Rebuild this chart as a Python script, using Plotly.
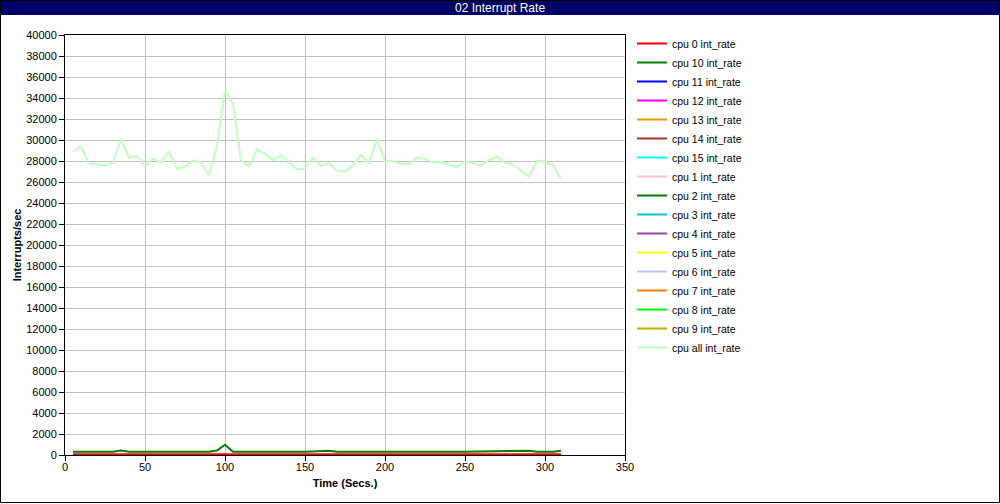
import plotly.graph_objects as go

# ---- data ----
times = [5, 10, 15, 20, 25, 30, 35, 40, 45, 50, 55, 60, 65, 70, 75, 80, 85, 90, 95, 100,
         105, 110, 115, 120, 125, 130, 135, 140, 145, 150, 155, 160, 165, 170, 175, 180,
         185, 190, 195, 200, 205, 210, 215, 220, 225, 230, 235, 240, 245, 250, 255, 260,
         265, 270, 275, 280, 285, 290, 295, 300, 305, 310]

cpu_all = [28900, 29400, 27750, 27680, 27520, 27900, 30070, 28320, 28480, 27460,
           28220, 27840, 28920, 27270, 27430, 28060, 27870, 26670, 29430, 34700,
           33430, 28030, 27520, 29080, 28670, 28100, 28540, 27900, 27200, 27270,
           28320, 27520, 27810, 27080, 27010, 27560, 28570, 27810, 30060, 28000,
           27970, 27750, 27680, 28350, 28220, 27870, 27940, 27650, 27400, 27970,
           27840, 27560, 28100, 28410, 27810, 27710, 27110, 26480, 28030, 27900,
           27650, 26250]

cpu_2 = [310, 310, 300, 300, 300, 310, 420, 310, 300, 290,
         290, 300, 300, 300, 310, 300, 300, 300, 420, 980,
         320, 310, 300, 310, 310, 320, 310, 310, 300, 300,
         320, 340, 400, 310, 300, 300, 310, 330, 310, 300,
         310, 320, 310, 310, 320, 310, 310, 300, 300, 310,
         320, 310, 300, 320, 310, 310, 330, 400, 320, 300,
         320, 400]

cpu_0 = [60, 60, 60, 60, 60, 60, 60, 60, 60, 60,
         60, 60, 60, 60, 60, 60, 60, 60, 60, 70,
         60, 60, 60, 60, 60, 60, 60, 60, 60, 60,
         60, 60, 60, 60, 60, 60, 60, 60, 60, 60,
         60, 60, 60, 60, 60, 60, 60, 60, 60, 60,
         60, 60, 60, 60, 60, 60, 60, 60, 60, 60,
         60, 60]

cpu_idle = [0] * len(times)

legend_names = ["cpu 0 int_rate", "cpu 10 int_rate", "cpu 11 int_rate", "cpu 12 int_rate",
                "cpu 13 int_rate", "cpu 14 int_rate", "cpu 15 int_rate", "cpu 1 int_rate",
                "cpu 2 int_rate", "cpu 3 int_rate", "cpu 4 int_rate", "cpu 5 int_rate",
                "cpu 6 int_rate", "cpu 7 int_rate", "cpu 8 int_rate", "cpu 9 int_rate",
                "cpu all int_rate"]
colors = ["#ff0000", "#008000", "#0000ff", "#ff00ff", "#e89a00", "#a83232", "#00ffff",
          "#ffc0c8", "#008000", "#00c8c8", "#a040a8", "#ffff00", "#c0c0ff", "#ff8000",
          "#00ff00", "#c0b000", "#c0ffc0"]
series = {"cpu 0 int_rate": cpu_0, "cpu 2 int_rate": cpu_2, "cpu all int_rate": cpu_all}

x_ticks = [0, 50, 100, 150, 200, 250, 300, 350]
y_ticks = list(range(0, 40001, 2000))

# ---- figure ----
fig = go.Figure()
# idle cpus drawn first, then cpu0, cpu2, cpu all (legend order via legendrank)
draw_order = [n for n in legend_names if n not in series] + ["cpu 0 int_rate", "cpu 2 int_rate", "cpu all int_rate"]
for name in draw_order:
    i = legend_names.index(name)
    fig.add_trace(go.Scatter(
        x=times, y=series.get(name, cpu_idle), mode="lines", name=name,
        line=dict(color=colors[i], width=2), legendrank=i + 1,
    ))

W, H = 1000, 504
L, R, T, B = 65, 375, 35, 49
pw, ph = W - L - R, H - T - B

def px(x):
    return (x - L) / pw

def py(y):
    return (H - B - y) / ph

font = "Arial, Liberation Sans, sans-serif"

fig.update_layout(
    width=W, height=H,
    margin=dict(l=L, r=R, t=T, b=B, autoexpand=False),
    paper_bgcolor="white", plot_bgcolor="white",
    font=dict(family=font, size=11, color="black"),
    showlegend=True,
    legend=dict(x=px(632), y=1 - 29 / H, yref="container", xanchor="left", yanchor="top",
                font=dict(size=10.5, family=font), bgcolor="rgba(0,0,0,0)",
                itemwidth=30, traceorder="normal", maxheight=1),
    xaxis=dict(range=[0, 350], tickvals=x_ticks, showgrid=True, gridcolor="#c0c0c0",
               gridwidth=1, showline=True, linecolor="black", linewidth=1, mirror=True,
               ticks="outside", ticklen=5, tickcolor="black", zeroline=False,
               ticklabelstandoff=-3,
               title=dict(text="Time (Secs.)", font=dict(size=11, weight="bold"), standoff=7)),
    yaxis=dict(range=[0, 40000], tickvals=y_ticks, tickformat="d", showgrid=True,
               gridcolor="#c0c0c0",
               gridwidth=1, showline=True, linecolor="black", linewidth=1, mirror=True,
               ticks="outside", ticklen=5, tickcolor="black", zeroline=False,
               title=dict(text="Interrupts/sec", font=dict(size=11, weight="bold"), standoff=2)),
    shapes=[
        dict(type="rect", xref="paper", yref="paper", x0=px(0), x1=px(W), y0=py(0), y1=py(15),
             fillcolor="#000066", line=dict(width=0), layer="below"),
        dict(type="rect", xref="paper", yref="paper", x0=px(0.5), x1=px(999.5), y0=py(0.5), y1=py(502.5),
             fillcolor="rgba(0,0,0,0)", line=dict(color="black", width=1)),
    ],
    annotations=[
        dict(text="02 Interrupt Rate", xref="paper", yref="paper", x=px(500), y=py(7.5),
             xanchor="center", yanchor="middle", showarrow=False,
             font=dict(color="white", size=12, family=font)),
    ],
)

fig.write_html("out.html", config={"displayModeBar": False},
               post_script="document.body.style.margin='0px';")
